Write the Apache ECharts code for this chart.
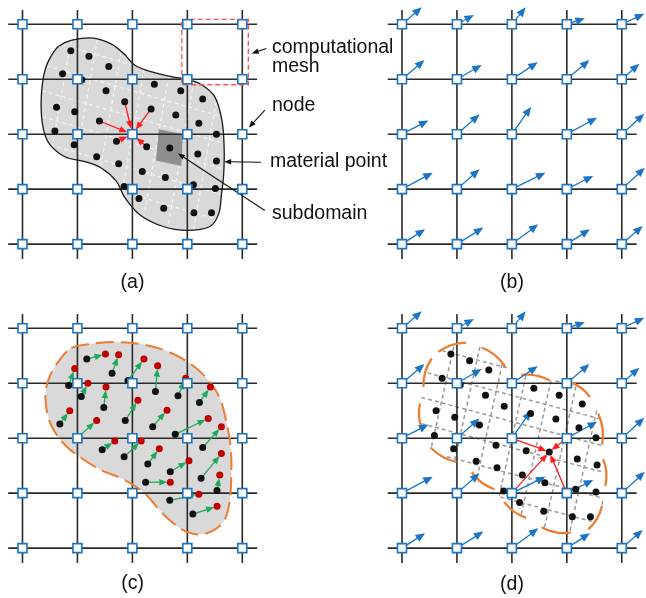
<!DOCTYPE html>
<html>
<head>
<meta charset="utf-8">
<script src="https://cdn.jsdelivr.net/npm/echarts@6/dist/echarts.min.js"></script>
<style>
  html, body { margin: 0; padding: 0; background: #fff; }
  #chart { width: 646px; height: 598px; }
</style>
</head>
<body>
<div id="chart"></div>
<script>
// ---------- Data (mesh units: one cell = 1, y counted downward) ----------

// Mesh node positions along each direction
const meshTicks = [0, 1, 2, 3, 4];

// (a) body outline
const bodyA = [[0.36,1.10],[0.42,0.80],[0.52,0.58],[0.66,0.40],[0.90,0.29],[1.29,0.25],[1.62,0.36],[1.86,0.55],
  [2.05,0.75],[2.40,0.88],[2.75,0.96],[2.99,1.00],[3.26,1.10],[3.50,1.32],[3.63,1.75],[3.67,2.25],[3.66,2.75],
  [3.62,3.10],[3.57,3.45],[3.41,3.68],[2.99,3.75],[2.56,3.68],[2.14,3.47],[1.86,3.15],[1.71,2.86],[1.44,2.62],
  [1.14,2.50],[0.77,2.41],[0.50,2.19],[0.39,1.95],[0.34,1.55]];

// (a) material points
const pointsA = [[0.88,0.48],[1.21,0.58],[0.73,0.90],[1.57,0.77],[1.08,1.01],[1.52,1.21],[2.40,1.09],[2.88,1.21],
  [3.28,1.36],[0.62,1.51],[0.95,1.59],[1.86,1.41],[2.34,1.54],[2.79,1.65],[3.21,1.80],[0.59,1.94],[1.40,1.76],
  [1.71,2.13],[2.26,2.23],[2.68,2.25],[3.53,2.00],[0.94,2.19],[1.35,2.41],[1.75,2.54],[2.18,2.68],[2.60,2.79],
  [3.19,2.36],[3.53,2.49],[1.85,2.95],[2.12,3.17],[2.57,3.35],[3.11,2.92],[3.51,2.99],[3.12,3.43],[3.44,3.43]];

// (a) one highlighted subdomain
const subdomainA = [[2.48,1.91],[2.92,2.00],[2.89,2.58],[2.43,2.48]];

// (a) points mapped onto the node at (2, 2)
const mapSourcesA = [[1.86,1.41],[2.34,1.54],[1.40,1.76],[1.71,2.13],[2.26,2.23]];
const mapNodeA = [2, 2];

// (a) highlighted mesh cell [x0, y0, x1, y1]
const meshCellBox = [2.90, -0.09, 4.11, 1.10];

// (a) subdomain grid: corner, row step, column step
const latticeA = { corner: [2.215, 0.80], a: [0.45, 0.13], b: [-0.08, 0.45] };

// Annotation leaders [from, to] in panel (a) units
const leaderLines = [
  [[4.44,0.44],[4.17,0.53]],
  [[4.41,1.56],[4.12,1.88]],
  [[4.34,2.51],[3.67,2.50]],
  [[4.41,3.39],[2.83,2.35]]
];
const noteLabels = ['computational', 'mesh', 'node', 'material point', 'subdomain'];
const panelLabels = ['(a)', '(b)', '(c)', '(d)'];

// Nodal velocity vectors, rows top to bottom, columns left to right
const nodeVelocity = [
  [[0.36,-0.31],[0.31,-0.17],[0.25,-0.31],[0.33,-0.11],[0.41,-0.19]],
  [[0.41,-0.35],[0.45,-0.26],[0.47,-0.31],[0.41,-0.35],[0.32,-0.28]],
  [[0.48,-0.25],[0.41,-0.36],[0.35,-0.50],[0.55,-0.30],[0.41,-0.37]],
  [[0.56,-0.30],[0.41,-0.36],[0.61,-0.30],[0.48,-0.24],[0.42,-0.39]],
  [[0.42,-0.27],[0.48,-0.30],[0.48,-0.36],[0.42,-0.27],[0.38,-0.33]]
];

// (c) body outline
const bodyC = [[0.89,0.36],[1.19,0.29],[1.68,0.25],[2.22,0.30],[2.71,0.45],[3.13,0.70],[3.40,0.97],[3.59,1.27],
  [3.71,1.70],[3.79,2.18],[3.80,2.67],[3.77,3.15],[3.68,3.48],[3.49,3.67],[3.25,3.75],[2.98,3.70],[2.71,3.52],
  [2.46,3.27],[2.22,3.00],[1.86,2.76],[1.43,2.58],[1.07,2.36],[0.77,2.12],[0.52,1.76],[0.42,1.33],[0.46,0.97],[0.65,0.61]];

// (c) material points before (start) and after (end) the update
const startsC = [[1.17,0.56],[1.63,0.82],[1.92,0.95],[0.84,1.04],[1.07,1.24],[1.48,1.44],[2.42,1.15],[2.83,1.23],
  [3.22,1.35],[0.68,1.74],[1.00,1.99],[1.87,1.68],[2.37,1.79],[2.78,1.93],[1.45,2.21],[1.85,2.34],[2.28,2.47],
  [3.28,2.17],[2.69,2.61],[2.24,2.80],[3.25,2.73],[2.68,3.13],[3.54,2.95],[3.10,3.38]];
const endsC = [[1.51,0.47],[1.75,0.48],[2.21,0.56],[0.95,0.73],[1.19,1.00],[1.52,1.07],[2.46,0.68],[2.97,0.91],
  [3.42,1.07],[0.86,1.50],[1.35,1.68],[2.10,1.31],[2.63,1.49],[3.38,1.64],[1.68,2.05],[2.16,2.05],[2.49,2.19],
  [3.62,1.79],[3.03,2.41],[2.69,2.80],[3.62,2.28],[3.21,3.02],[3.59,2.67],[3.54,3.24]];

// (d) material points and the point being updated
const pointsD = [[0.89,0.47],[1.23,0.59],[1.58,0.76],[0.73,0.91],[1.06,1.03],[1.52,1.22],[1.86,1.42],[1.99,0.97],
  [2.40,1.09],[2.86,1.22],[3.28,1.38],[0.62,1.50],[0.96,1.62],[1.41,1.76],[2.34,1.55],[2.80,1.65],[3.22,1.81],
  [3.53,1.99],[0.59,1.95],[0.94,2.19],[1.71,2.13],[2.26,2.23],[1.35,2.42],[1.73,2.54],[2.19,2.67],[2.60,2.81],
  [3.19,2.38],[3.55,2.49],[1.85,2.96],[2.14,3.17],[2.58,3.33],[3.16,2.93],[3.53,2.98],[3.10,3.43],[3.43,3.43]];
const targetD = [2.68, 2.25];
const targetNodesD = [[2,2],[3,2],[2,3],[3,3]];

// (d) boundary pieces, listed clockwise
const arcsD = [
  [[0.66,0.43],[1.17,0.26]], [[1.45,0.35],[1.88,0.70]], [[2.17,0.85],[2.69,0.95]], [[3.04,0.97],[3.42,1.25]],
  [[3.57,1.55],[3.64,2.12]], [[3.66,2.38],[3.70,2.87]], [[3.64,3.23],[3.39,3.66]], [[3.07,3.72],[2.54,3.62]],
  [[2.26,3.45],[1.86,3.16]], [[1.68,2.93],[1.27,2.62]], [[0.99,2.43],[0.52,2.17]], [[0.36,1.82],[0.33,1.37]],
  [[0.39,1.07],[0.54,0.55]]
];
const latticeD = { corner: [2.165, 1.265], a: [0.45, 0.12], b: [-0.10, 0.45] };

// ---------- Styling ----------
const C = {
  mesh: '#2a2a2a', node: '#1b75c2', blue: '#1b75c2', red: '#ff1e1e', green: '#1fa85a',
  redDot: '#c00000', orange: '#ed7d31', body: '#d9d9d9', sub: '#8e8e8e', dark: '#111'
};
const FONT = '"Liberation Sans", Arial, Helvetica, sans-serif';
const cellPx = 54.95;
const span = [-0.3, 4.3];
const panels = [
  { left: 6.0, top: 7.8 }, { left: 385.5, top: 7.8 },
  { left: 6.0, top: 311.8 }, { left: 385.5, top: 311.8 }
];

// ---------- Helpers ----------
function base(gi) {
  return { xAxisIndex: gi, yAxisIndex: gi, silent: true, animation: false };
}

function segSeries(gi, segs, style) {
  return Object.assign(base(gi), {
    type: 'custom', clip: false, data: segs, encode: { x: [0, 2], y: [1, 3] },
    renderItem(params, api) {
      const p = api.coord([api.value(0), api.value(1)]);
      const q = api.coord([api.value(2), api.value(3)]);
      return { type: 'line', shape: { x1: p[0], y1: p[1], x2: q[0], y2: q[1] }, style };
    }
  });
}

function polySeries(gi, pts, style, smooth) {
  return Object.assign(base(gi), {
    type: 'custom', clip: false, data: [[0, 0]],
    renderItem(params, api) {
      return { type: 'polygon', shape: { points: pts.map(p => api.coord(p)), smooth: smooth || 0 }, style };
    }
  });
}

function arrowSeries(gi, pairs, o) {
  return Object.assign(base(gi), {
    type: 'custom', clip: false,
    data: pairs.map(d => [d[0][0], d[0][1], d[1][0], d[1][1]]),
    encode: { x: [0, 2], y: [1, 3] },
    renderItem(params, api) {
      const p = api.coord([api.value(0), api.value(1)]);
      const q = api.coord([api.value(2), api.value(3)]);
      const dx = q[0] - p[0], dy = q[1] - p[1];
      const len = Math.hypot(dx, dy) || 1;
      const ux = dx / len, uy = dy / len;
      const s = [p[0] + ux * (o.startGap || 0), p[1] + uy * (o.startGap || 0)];
      const tip = [q[0] - ux * (o.endGap || 0), q[1] - uy * (o.endGap || 0)];
      const bs = [tip[0] - ux * o.head, tip[1] - uy * o.head];
      const w = o.headW / 2;
      return {
        type: 'group', children: [
          { type: 'line', shape: { x1: s[0], y1: s[1], x2: bs[0] + ux, y2: bs[1] + uy },
            style: { stroke: o.color, lineWidth: o.width } },
          { type: 'polygon', shape: { points: [tip, [bs[0] - uy * w, bs[1] + ux * w], [bs[0] + uy * w, bs[1] - ux * w]] },
            style: { fill: o.color } }
        ]
      };
    }
  });
}

function arcSeries(gi, arcs, style, bend) {
  return Object.assign(base(gi), {
    type: 'custom', clip: false,
    data: arcs.map(d => [d[0][0], d[0][1], d[1][0], d[1][1]]),
    encode: { x: [0, 2], y: [1, 3] },
    renderItem(params, api) {
      const p = api.coord([api.value(0), api.value(1)]);
      const q = api.coord([api.value(2), api.value(3)]);
      const mx = (p[0] + q[0]) / 2, my = (p[1] + q[1]) / 2;
      const dx = q[0] - p[0], dy = q[1] - p[1];
      return { type: 'bezierCurve',
        shape: { x1: p[0], y1: p[1], x2: q[0], y2: q[1], cpx1: mx + dy * bend, cpy1: my - dx * bend },
        style: Object.assign({ fill: 'none' }, style) };
    }
  });
}

function scatterSeries(gi, pts, color, size) {
  return Object.assign(base(gi), {
    type: 'scatter', data: pts, symbolSize: size, itemStyle: { color, opacity: 1 }
  });
}

// Parameters where the line p + t*d crosses the polygon outline
function crossings(p, d, poly) {
  const ts = [];
  for (let i = 0; i < poly.length; i++) {
    const a = poly[i], b = poly[(i + 1) % poly.length];
    const ex = b[0] - a[0], ey = b[1] - a[1];
    const den = d[0] * ey - d[1] * ex;
    if (Math.abs(den) < 1e-12) continue;
    const wx = a[0] - p[0], wy = a[1] - p[1];
    const t = (wx * ey - wy * ex) / den;
    const s = (wx * d[1] - wy * d[0]) / den;
    if (s >= 0 && s < 1) ts.push(t);
  }
  return ts.sort((x, y) => x - y);
}

// Subdomain boundaries: the two line families of a grid, kept inside the outline
function gridInside(lat, poly) {
  const segs = [];
  [[lat.a, lat.b], [lat.b, lat.a]].forEach(([dir, step]) => {
    for (let k = -14; k <= 14; k++) {
      const p = [lat.corner[0] + k * step[0], lat.corner[1] + k * step[1]];
      const ts = crossings(p, dir, poly);
      for (let i = 0; i + 1 < ts.length; i += 2) {
        segs.push([p[0] + ts[i] * dir[0], p[1] + ts[i] * dir[1],
                   p[0] + ts[i + 1] * dir[0], p[1] + ts[i + 1] * dir[1]]);
      }
    }
  });
  return segs;
}

// ---------- Derived geometry ----------
const lo = -0.26, hi = 4.27;
const meshSegs = [];
meshTicks.forEach(t => { meshSegs.push([lo, t, hi, t]); meshSegs.push([t, lo, t, hi]); });
const nodes = [];
meshTicks.forEach(y => meshTicks.forEach(x => nodes.push([x, y])));
const velArrows = [];
meshTicks.forEach((y, r) => meshTicks.forEach((x, c) => {
  const v = nodeVelocity[r][c];
  velArrows.push([[x, y], [x + v[0], y + v[1]]]);
}));
const outlineD = arcsD.flat();
const boxA = [[meshCellBox[0], meshCellBox[1]], [meshCellBox[2], meshCellBox[1]],
              [meshCellBox[2], meshCellBox[3]], [meshCellBox[0], meshCellBox[3]]];

const meshStyle = { stroke: C.mesh, lineWidth: 1.6 };
const nodeSeries = gi => Object.assign(base(gi), {
  type: 'scatter', data: nodes, symbol: 'rect', symbolSize: 9,
  itemStyle: { color: '#fff', borderColor: C.node, borderWidth: 1.6, opacity: 1 }
});
const blueArrow = { color: C.blue, width: 1.3, head: 9.5, headW: 8 };

const series = [
  // panel (a)
  polySeries(0, bodyA, { fill: C.body }, 0.35),
  segSeries(0, gridInside(latticeA, bodyA), { stroke: '#f4f4f4', lineWidth: 1.2, lineDash: [4, 3] }),
  polySeries(0, subdomainA, { fill: C.sub }),
  segSeries(0, meshSegs, meshStyle),
  polySeries(0, bodyA, { fill: 'none', stroke: '#1a1a1a', lineWidth: 1.3 }, 0.35),
  polySeries(0, boxA, { fill: 'none', stroke: '#ff4d4d', lineWidth: 1.3, lineDash: [5, 3] }),
  scatterSeries(0, pointsA, C.dark, 7),
  arrowSeries(0, mapSourcesA.map(s => [s, mapNodeA]), { color: C.red, width: 1.3, head: 8, headW: 6.5, endGap: 5.5 }),
  nodeSeries(0),
  arrowSeries(0, leaderLines, { color: C.dark, width: 1.1, head: 7, headW: 5.5 }),

  // panel (b)
  segSeries(1, meshSegs, meshStyle),
  arrowSeries(1, velArrows, blueArrow),
  nodeSeries(1),

  // panel (c)
  polySeries(2, bodyC, { fill: C.body }, 0.35),
  segSeries(2, meshSegs, meshStyle),
  polySeries(2, bodyC, { fill: 'none', stroke: C.orange, lineWidth: 2, lineDash: [18, 7] }, 0.35),
  scatterSeries(2, startsC, C.dark, 7),
  scatterSeries(2, endsC, C.redDot, 7),
  arrowSeries(2, startsC.map((s, i) => [s, endsC[i]]), { color: C.green, width: 1.3, head: 8, headW: 6.5, endGap: 3 }),
  nodeSeries(2),

  // panel (d)
  segSeries(3, gridInside(latticeD, outlineD), { stroke: '#9a9a9a', lineWidth: 1.5, lineDash: [4, 3] }),
  segSeries(3, meshSegs, meshStyle),
  arcSeries(3, arcsD, { stroke: C.orange, lineWidth: 2.3 }, 0.16),
  scatterSeries(3, pointsD.concat([targetD]), C.dark, 7),
  arrowSeries(3, velArrows, blueArrow),
  nodeSeries(3),
  arrowSeries(3, targetNodesD.map(n => [n, targetD]), { color: C.red, width: 1.3, head: 8, headW: 6.5, startGap: 4, endGap: 3 })
];

const txt = (text, x, y, align) => ({
  type: 'text', x, y, silent: true,
  style: { text, fill: C.dark, fontSize: 19.5, fontFamily: FONT, align: align || 'left', verticalAlign: 'middle' }
});

const option = {
  animation: false,
  backgroundColor: '#fff',
  grid: panels.map(p => ({ left: p.left, top: p.top, width: cellPx * 4.6, height: cellPx * 4.6 })),
  xAxis: panels.map((p, i) => ({ type: 'value', gridIndex: i, min: span[0], max: span[1], show: false })),
  yAxis: panels.map((p, i) => ({ type: 'value', gridIndex: i, min: span[0], max: span[1], inverse: true, show: false })),
  series,
  graphic: [
    txt(noteLabels[0], 272, 47.5), txt(noteLabels[1], 272, 66.5), txt(noteLabels[2], 272, 106),
    txt(noteLabels[3], 270, 161.5), txt(noteLabels[4], 272, 214),
    txt(panelLabels[0], 132.5, 283, 'center'), txt(panelLabels[1], 512, 283, 'center'),
    txt(panelLabels[2], 132.5, 584, 'center'), txt(panelLabels[3], 512, 585, 'center')
  ]
};

const chart = echarts.init(document.getElementById('chart'));
chart.setOption(option);
</script>
</body>
</html>
